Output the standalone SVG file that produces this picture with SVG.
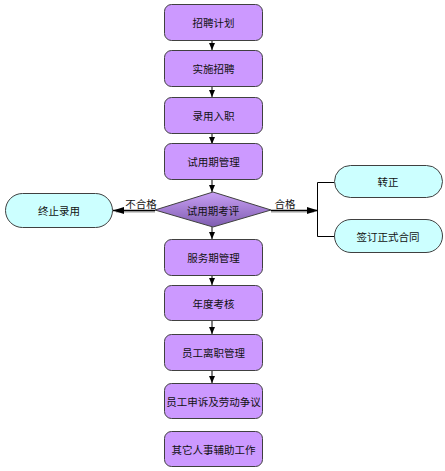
<svg xmlns="http://www.w3.org/2000/svg" width="445" height="471" viewBox="0 0 445 471">
<style>
.box{fill:#CC99FF;stroke:#404040;stroke-width:1}
.pill{fill:#CCFFFF;stroke:#404040;stroke-width:1}
.t{font-family:"Noto Sans CJK SC","Noto Sans",sans-serif;font-size:10.5px;fill:#111;text-anchor:middle;dominant-baseline:central}
.ln{stroke:#000;stroke-width:1;fill:none}
.hl{stroke:#000;stroke-width:1.6;fill:none}
.sh{stroke:#bbb;stroke-width:1.6;fill:none}
</style>
<defs>
<marker id="ah" markerWidth="8" markerHeight="8" refX="7" refY="4" orient="auto" markerUnits="userSpaceOnUse">
<path d="M0,1 L7,4 L0,7 Z" fill="#000"/>
</marker>
<marker id="ah2" markerWidth="12" markerHeight="10" refX="11" refY="5" orient="auto" markerUnits="userSpaceOnUse">
<path d="M0,1.5 L11,5 L0,8.5 Z" fill="#000"/>
</marker>
<linearGradient id="dg" x1="0" y1="0" x2="0" y2="1">
<stop offset="0" stop-color="#C9A0F5"/>
<stop offset="1" stop-color="#7E5CB0"/>
</linearGradient>
</defs>
<g id="connectors">
<line class="ln" x1="212" y1="40" x2="212" y2="50" marker-end="url(#ah)"/>
<line class="ln" x1="212" y1="87" x2="212" y2="97" marker-end="url(#ah)"/>
<line class="ln" x1="212" y1="133" x2="212" y2="144" marker-end="url(#ah)"/>
<line class="ln" x1="212" y1="180" x2="212" y2="192" marker-end="url(#ah)"/>
<line class="ln" x1="212" y1="227" x2="212" y2="239" marker-end="url(#ah)"/>
<line class="ln" x1="212" y1="275" x2="212" y2="285" marker-end="url(#ah)"/>
<line class="ln" x1="212" y1="321" x2="212" y2="334" marker-end="url(#ah)"/>
<line class="ln" x1="212" y1="370" x2="212" y2="383" marker-end="url(#ah)"/>
<line class="sh" x1="155" y1="212" x2="116" y2="212"/>
<line class="hl" x1="155" y1="210.5" x2="113" y2="210.5" marker-end="url(#ah2)"/>
<text class="t" x="141" y="203">不合格</text>
<line class="sh" x1="271" y1="212" x2="314" y2="212"/>
<line class="hl" x1="271" y1="210.5" x2="318" y2="210.5" marker-end="url(#ah2)"/>
<text class="t" x="285" y="203">合格</text>
<path class="ln" d="M334,182.5 H317.5 V236.5 H334"/>
</g>
<g id="n1"><rect class="box" x="164.5" y="4.5" width="98" height="36" rx="7"/><text class="t" x="213.5" y="22.5">招聘计划</text></g>
<g id="n2"><rect class="box" x="164.5" y="50.5" width="98" height="36" rx="7"/><text class="t" x="213.5" y="68.5">实施招聘</text></g>
<g id="n3"><rect class="box" x="164.5" y="97.5" width="98" height="36" rx="7"/><text class="t" x="213.5" y="115.5">录用入职</text></g>
<g id="n4"><rect class="box" x="164.5" y="143.5" width="98" height="36" rx="7"/><text class="t" x="213.5" y="161.5">试用期管理</text></g>
<g id="d1"><polygon points="213,192 271,210 213,227 155,210" fill="url(#dg)" stroke="#404040" stroke-width="1"/><text class="t" x="213" y="210">试用期考评</text></g>
<g id="p1"><rect class="pill" x="5.5" y="193.5" width="107" height="34" rx="17"/><text class="t" x="59" y="210.5">终止录用</text></g>
<g id="p2"><rect class="pill" x="334.5" y="165.5" width="108" height="32" rx="16"/><text class="t" x="388" y="181.5">转正</text></g>
<g id="p3"><rect class="pill" x="334.5" y="219.5" width="108" height="33" rx="16.5"/><text class="t" x="388" y="236">签订正式合同</text></g>
<g id="n5"><rect class="box" x="164.5" y="239.5" width="98" height="36" rx="7"/><text class="t" x="213.5" y="257.5">服务期管理</text></g>
<g id="n6"><rect class="box" x="164.5" y="285.5" width="98" height="35" rx="7"/><text class="t" x="213.5" y="303">年度考核</text></g>
<g id="n7"><rect class="box" x="164.5" y="334.5" width="98" height="36" rx="7"/><text class="t" x="213.5" y="352.5">员工离职管理</text></g>
<g id="n8"><rect class="box" x="164.5" y="383.5" width="98" height="35" rx="7"/><text class="t" x="213.5" y="401">员工申诉及劳动争议</text></g>
<g id="n9"><rect class="box" x="164.5" y="431.5" width="98" height="35" rx="7"/><text class="t" x="213.5" y="449">其它人事辅助工作</text></g>
</svg>
